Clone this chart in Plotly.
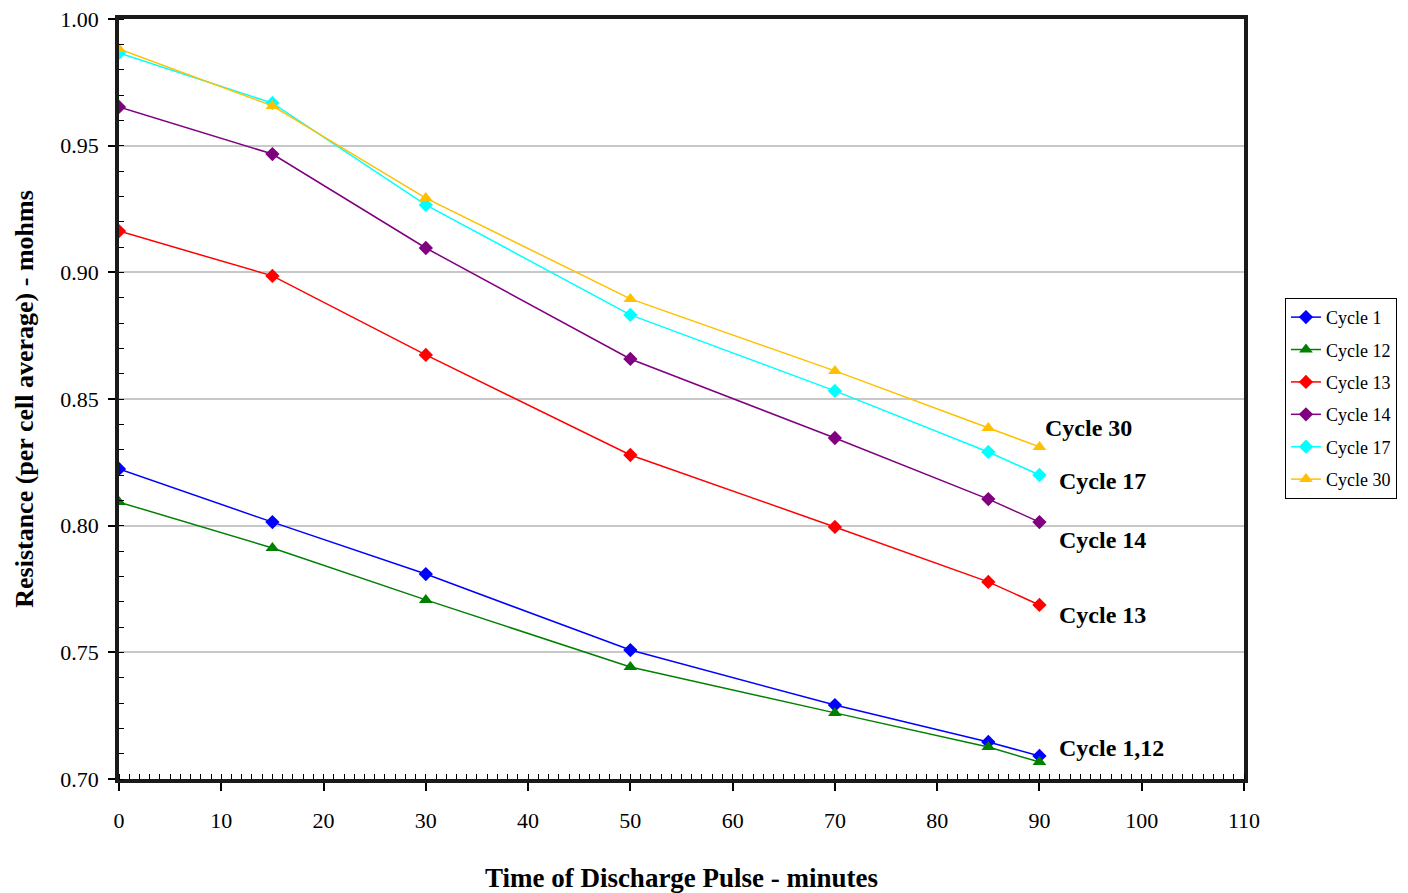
import plotly.graph_objects as go

time_min = [0, 15, 30, 50, 70, 85, 90]
cycle_1 = [0.8224, 0.8014, 0.7809, 0.7509, 0.7292, 0.7146, 0.7091]
cycle_12 = [0.8093, 0.7912, 0.7707, 0.7442, 0.7261, 0.7126, 0.7067]
cycle_13 = [0.9163, 0.8986, 0.8674, 0.8279, 0.7995, 0.7778, 0.7687]
cycle_14 = [0.9653, 0.9467, 0.9096, 0.8658, 0.8346, 0.8105, 0.8014]
cycle_17 = [0.9866, 0.9668, 0.9266, 0.8832, 0.8532, 0.8291, 0.8200]
cycle_30 = [0.9882, 0.9657, 0.9293, 0.8895, 0.8611, 0.8386, 0.8311]

series_names = ["Cycle 1", "Cycle 12", "Cycle 13", "Cycle 14", "Cycle 17", "Cycle 30"]
series_values = [cycle_1, cycle_12, cycle_13, cycle_14, cycle_17, cycle_30]
series_colors = ["#0000FF", "#008000", "#FF0000", "#800080", "#00FFFF", "#FFC000"]
series_symbols = ["diamond", "triangle-up", "diamond", "diamond", "diamond", "triangle-up"]

x_ticks = list(range(0, 111, 10))
y_ticks = [0.70, 0.75, 0.80, 0.85, 0.90, 0.95, 1.00]

SERIF = "Liberation Serif, Times New Roman, serif"

fig = go.Figure()
for name, vals, col, sym in zip(series_names, series_values, series_colors, series_symbols):
    fig.add_trace(go.Scatter(
        x=time_min, y=vals, name=name, mode="lines+markers",
        line=dict(color=col, width=1.5),
        marker=dict(symbol=sym, size=11 if sym == "diamond" else 12, color=col),
        legendgroup=name,
    ))

# End-of-line labels, placed relative to each series' last point
end_labels = [
    ("Cycle 30", cycle_30[-1], 4, 19),
    ("Cycle 17", cycle_17[-1], 18, -6),
    ("Cycle 14", cycle_14[-1], 18, -18),
    ("Cycle 13", cycle_13[-1], 18, -10),
    ("Cycle 1,12", cycle_1[-1], 18, 8),
]
for text, yv, xs, ys in end_labels:
    fig.add_annotation(
        x=time_min[-1], y=yv, xref="x", yref="y", text=f"<b>{text}</b>",
        showarrow=False, xanchor="left", yanchor="middle",
        xshift=xs, yshift=ys, font=dict(family=SERIF, size=24, color="#000"),
    )

fig.update_layout(
    width=1400, height=885,
    margin=dict(l=111, r=164, t=11, b=114),
    paper_bgcolor="white", plot_bgcolor="white",
    font=dict(family=SERIF, color="#000"),
    showlegend=True,
    legend=dict(
        x=1.0364, y=0.633, xanchor="left", yanchor="top",
        bordercolor="#000", borderwidth=1, bgcolor="white",
        font=dict(family=SERIF, size=18, color="#000"),
        traceorder="grouped", tracegroupgap=6,
    ),
    xaxis=dict(
        range=[0, 110], tickvals=x_ticks, ticktext=[str(v) for v in x_ticks],
        showgrid=False, zeroline=False, automargin=False,
        showline=True, linecolor="#1a1a1a", linewidth=3.5, mirror=True,
        ticks="outside", ticklen=8, tickwidth=1.5, tickcolor="#000",
        ticklabelstandoff=11, ticklabeloverflow="allow",
        tickfont=dict(family=SERIF, size=22, color="#000"),
        minor=dict(dtick=1, ticks="inside", ticklen=5, tickwidth=1.2, tickcolor="#000", showgrid=False),
        title=dict(text="<b>Time of Discharge Pulse - minutes</b>",
                   font=dict(family=SERIF, size=27, color="#000"), standoff=38),
    ),
    yaxis=dict(
        range=[0.70, 1.00], tickvals=y_ticks, ticktext=[f"{v:.2f}" for v in y_ticks],
        showgrid=True, gridcolor="#C8C8C8", gridwidth=1.5, zeroline=False, automargin=False,
        showline=True, linecolor="#1a1a1a", linewidth=3.5, mirror=True,
        ticks="outside", ticklen=7, tickwidth=1.5, tickcolor="#000",
        ticklabelstandoff=5, ticklabeloverflow="allow",
        tickfont=dict(family=SERIF, size=22, color="#000"),
        minor=dict(dtick=0.01, ticks="inside", ticklen=5, tickwidth=1.2, tickcolor="#000", showgrid=False),
        title=dict(text="<b>Resistance (per cell average) - mohms</b>",
                   font=dict(family=SERIF, size=26, color="#000"), standoff=20),
    ),
)

fig.write_html("out.html")
